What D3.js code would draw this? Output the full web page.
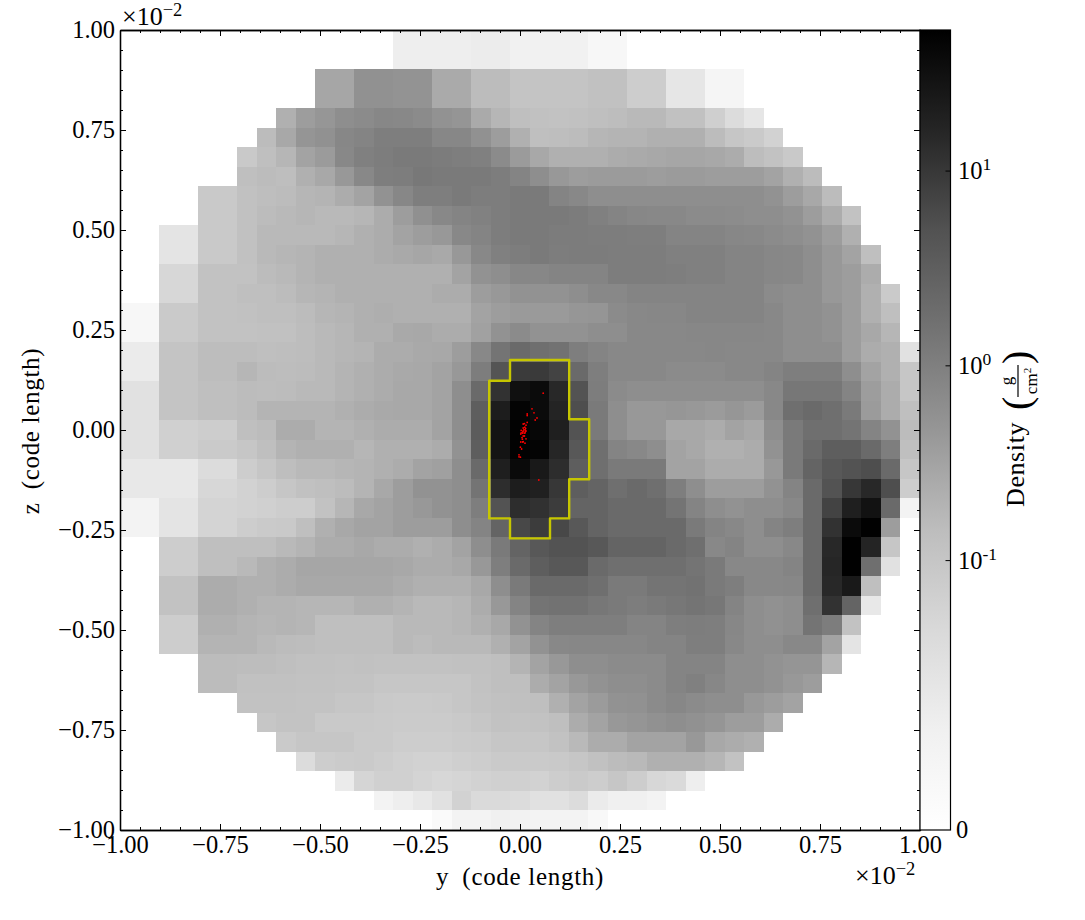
<!DOCTYPE html>
<html>
<head>
<meta charset="utf-8">
<script src="https://cdn.jsdelivr.net/npm/d3@7/dist/d3.min.js"></script>
<style>
body { margin: 0; background: #fff; }
svg text { font-family: "Liberation Serif", serif; fill: #000; }
</style>
</head>
<body>
<div id="diagram_canvas"></div>
<script>
// ----------------------------------------------------------------------
// density in g/cm^2, one row per image row (top to bottom), 41 cells across.
// rowStart is the column of the first filled cell of the row.

const rowStart = [14,14,10,10,8,7,6,6,4,4,2,2,2,2,0,0,0,0,0,0,0,0,0,0,0,0,2,2,2,2,2,2,4,4,6,7,8,9,11,13,16];

const density = [
[.04,.04,.04,.04,.043,.043,.035,.035,.035,.035,.02,.02],
[.04,.04,.04,.04,.043,.043,.035,.035,.035,.035,.02,.02],
[.29,.29,.56,.56,.51,.51,.255,.255,.15,.15,.105,.105,.105,.105,.12,.12,.09,.09,.053,.053,.024,.024],
[.29,.29,.56,.56,.51,.51,.255,.255,.15,.15,.105,.105,.105,.105,.12,.12,.09,.09,.053,.053,.024,.024],
[.21,.375,.47,.62,.68,.79,.74,.68,.53,.49,.255,.175,.13,.12,.115,.12,.13,.145,.16,.16,.12,.12,.087,.07,.053],
[.15,.275,.49,.56,.79,.86,1.04,1.04,1.04,.79,.79,.56,.375,.21,.13,.135,.15,.175,.19,.19,.215,.215,.21,.15,.10,.094,.084],
[.096,.13,.175,.32,.40,.74,.97,1.1,1.22,1.22,1.14,1.04,.97,.68,.40,.275,.21,.21,.21,.24,.255,.275,.29,.29,.275,.24,.145,.115,.096],
[.13,.15,.135,.215,.275,.44,.74,1.04,1.1,1.28,1.22,1.22,1.22,1.1,.86,.62,.44,.375,.40,.40,.40,.375,.40,.40,.375,.375,.375,.32,.21,.15],
[.096,.096,.12,.135,.15,.175,.19,.24,.32,.53,.79,1.04,1.04,1.22,1.1,1.1,1.22,1.22,.86,.74,.62,.62,.62,.62,.62,.62,.62,.62,.62,.53,.375,.275,.15],
[.096,.096,.12,.15,.16,.175,.16,.16,.175,.24,.375,.58,.74,.86,.94,1.1,1.22,1.22,1.22,1.14,.97,.86,.79,.74,.74,.68,.68,.66,.62,.62,.53,.375,.24,.115],
[.057,.057,.096,.096,.12,.16,.16,.16,.16,.175,.21,.24,.32,.375,.44,.74,.86,1.1,1.22,1.22,1.14,1.14,1.1,1.1,1.04,1.04,.86,.86,.86,.79,.74,.68,.62,.53,.375,.215],
[.057,.057,.096,.096,.12,.16,.175,.19,.21,.21,.215,.24,.265,.29,.26,.44,.74,.97,1.1,1.22,1.1,1.14,1.14,1.1,1.1,1.1,.97,.97,.97,.86,.86,.79,.74,.62,.44,.32,.13],
[.077,.077,.115,.115,.115,.15,.16,.19,.21,.21,.21,.21,.21,.21,.215,.32,.53,.62,.79,.79,.86,.86,.86,1.1,1.1,1.1,1.04,.97,.97,.86,.86,.79,.74,.62,.44,.375,.24],
[.077,.077,.115,.115,.13,.13,.15,.175,.19,.21,.21,.215,.215,.215,.24,.24,.375,.44,.53,.53,.53,.62,.74,.74,.86,.86,.86,.86,.86,.86,.86,.68,.62,.62,.44,.375,.21,.094],
[.02,.02,.094,.094,.115,.115,.12,.13,.13,.15,.175,.19,.21,.225,.215,.215,.215,.215,.32,.375,.42,.42,.42,.47,.49,.68,.74,.79,.79,.86,.86,.86,.86,.74,.62,.62,.53,.375,.215,.13],
[.02,.02,.094,.094,.115,.115,.115,.12,.12,.145,.16,.175,.21,.215,.265,.275,.24,.24,.335,.53,.68,.53,.53,.53,.62,.62,.74,.74,.74,.79,.79,.79,.79,.74,.62,.62,.53,.375,.275,.175],
[.045,.045,.105,.105,.145,.145,.145,.13,.135,.145,.16,.175,.19,.24,.24,.265,.275,.375,.74,1.46,2.1,1.75,1.57,1.04,.86,.74,.74,.74,.74,.74,.79,.74,.74,.74,.62,.62,.62,.375,.24,.21,.061],
[.045,.045,.105,.105,.145,.145,.175,.15,.145,.15,.16,.19,.215,.24,.265,.275,.32,.44,1.1,4.6,9.2,9.4,7.4,2.1,1.04,.74,.74,.74,.68,.68,.68,.74,.74,.86,1.04,1.04,1.04,.62,.32,.215,.10],
[.061,.061,.105,.105,.13,.13,.15,.145,.15,.16,.16,.19,.215,.24,.275,.275,.32,.62,2.1,11.5,32,37,15,4.8,1.1,.68,.62,.62,.62,.62,.62,.62,.62,.74,1.35,1.35,1.35,.86,.375,.24,.10],
[.061,.061,.105,.105,.13,.13,.15,.19,.19,.19,.19,.21,.24,.265,.275,.275,.32,.62,3.2,21,46,37,17,5.6,1.22,.62,.44,.44,.47,.44,.40,.47,.40,.74,1.75,2.1,1.75,1.22,.40,.24,.13],
[.061,.061,.086,.086,.09,.09,.13,.15,.24,.24,.19,.19,.21,.24,.24,.24,.32,.62,3.5,28,49,42,20,4.8,1.22,.62,.44,.44,.275,.275,.24,.32,.275,.62,1.22,1.75,1.75,1.46,.86,.53,.15],
[.061,.061,.086,.086,.094,.094,.10,.13,.19,.21,.21,.21,.175,.21,.21,.21,.24,.53,3.2,28,49,46,16,4,1.75,.86,.74,.62,.32,.275,.21,.21,.24,.53,1.22,2.1,3.2,3.2,2.1,1.04,.13],
[.05,.05,.05,.05,.07,.07,.09,.10,.135,.16,.16,.175,.19,.21,.24,.32,.345,.62,2.1,20,39,24,13,3.2,1.75,1.22,1.22,1.22,.32,.32,.24,.24,.24,.44,1.22,2.6,4,4.8,5.6,2.1,.10],
[.05,.05,.05,.05,.077,.077,.084,.09,.10,.12,.13,.15,.19,.275,.375,.53,.53,.62,1.46,13,21,19,10,3.2,2.6,1.75,2.1,1.75,1.04,.62,.375,.375,.375,.53,.86,2.1,4.8,10,15,5.6,.09],
[.03,.03,.057,.057,.081,.081,.084,.086,.09,.09,.115,.175,.275,.32,.375,.44,.53,.62,1.04,4.8,13,12,8.9,2.6,2.6,2.1,2.1,2.1,1.46,.86,.62,.53,.62,.62,.74,2.1,7.4,20,30,2.1,.03],
[.03,.03,.057,.057,.081,.081,.09,.094,.096,.13,.21,.275,.32,.32,.375,.375,.375,.62,.86,2.6,6.5,8.9,6.5,4,2.6,2.1,2.1,2.1,2.1,1.22,.86,.74,.62,.86,1.04,2.1,11.5,37,51,.375],
[.09,.09,.13,.13,.13,.13,.16,.19,.24,.24,.275,.24,.24,.215,.24,.32,.62,1.22,2.6,4,4.8,4.8,4,2.6,2.6,2.6,2.1,1.75,.74,.86,.62,.62,.74,2.1,15,52,17,.10],
[.09,.09,.13,.13,.16,.21,.24,.29,.29,.29,.29,.29,.275,.24,.24,.275,.44,1.04,2.1,3.2,4,4,2.1,1.75,1.75,1.75,1.75,1.46,1.22,.74,.74,.74,.86,2.1,16,52,1.75,.061],
[.115,.115,.24,.24,.21,.21,.24,.275,.275,.275,.275,.275,.24,.215,.21,.21,.275,.62,1.22,2.1,2.1,2.1,1.75,1.22,1.22,1.46,1.46,1.57,1.22,1.04,.74,.74,.79,2.1,15,24,.13],
[.115,.115,.24,.24,.21,.19,.19,.175,.175,.175,.21,.21,.19,.16,.16,.175,.24,.44,.86,1.46,1.57,1.57,1.35,1.22,1.1,1.22,1.35,1.46,1.35,.86,.62,.56,.62,1.75,11.5,2.6,.05],
[.09,.09,.21,.21,.19,.175,.19,.175,.13,.13,.13,.13,.16,.16,.16,.175,.21,.275,.53,.86,1.04,1.04,1.04,1.04,.86,.86,1.04,1.1,1.04,.79,.62,.56,.62,1.46,1.1,.115],
[.09,.09,.19,.19,.19,.16,.15,.145,.13,.13,.13,.13,.16,.15,.16,.16,.16,.21,.32,.53,.74,.79,.79,.79,.79,.86,.86,1.04,1.04,.74,.62,.62,.74,.74,.32,.057],
[.15,.15,.145,.145,.13,.12,.12,.115,.12,.115,.115,.115,.115,.12,.12,.13,.19,.32,.44,.62,.62,.68,.68,.68,.86,.86,.86,.62,.62,.53,.49,.49,.175],
[.15,.15,.12,.12,.12,.115,.115,.11,.11,.10,.10,.10,.10,.10,.115,.13,.13,.24,.32,.44,.53,.62,.62,.68,.86,.97,.79,.62,.62,.53,.44,.375],
[.115,.115,.115,.11,.11,.10,.10,.096,.094,.094,.096,.10,.11,.12,.125,.13,.21,.32,.40,.53,.56,.68,.79,.68,.62,.62,.44,.375,.32],
[.10,.11,.11,.096,.096,.096,.094,.093,.093,.093,.096,.10,.115,.11,.115,.13,.24,.32,.44,.49,.56,.62,.56,.49,.375,.375,.24],
[.094,.10,.10,.10,.094,.094,.09,.09,.09,.093,.094,.10,.10,.10,.115,.16,.24,.24,.32,.32,.32,.44,.275,.24,.21],
[.07,.09,.093,.094,.09,.086,.084,.084,.087,.09,.094,.094,.094,.096,.10,.12,.15,.16,.21,.215,.215,.175,.115],
[.045,.08,.086,.086,.081,.077,.08,.084,.086,.086,.084,.09,.094,.09,.10,.09,.077,.073,.04],
[.029,.04,.05,.061,.084,.073,.073,.07,.061,.061,.07,.045,.037,.037,.03],
[.012,.029,.029,.037,.033,.029,.029,.029,.018]
];

// particle positions, in the axis units (x 10^-2)
const particleY = [.058,.03,.035,.018,.018,.0425,.038,.018,.011,.008,.015,.008,.014,.013,.003,.008,.015,.003,.007,.012,.002,.008,.011,.015,.006,.002,.007,.008,.0125,.001,.004,-.0025,-.0025,.001,.047,.01,.012,.007,.013,.005];
const particleZ = [.092,.053,.043,.04,.036,.03,.025,.019,.016,.015,.012,.005,.004,0,-.001,-.0025,-.0025,-.007,-.008,-.008,-.01,-.015,-.015,-.022,-.023,-.03,-.03,-.029,-.033,-.043,-.0475,-.062,-.067,-.068,-.125,.001,.007,-.005,-.005,-.019];

// contour outline
const contourY = [-.025,.123,.123,.173,.173,.123,.123,.075,.075,-.025,-.025,-.077,-.077,-.025,-.025];
const contourZ = [.175,.175,.027,.027,-.123,-.123,-.221,-.221,-.271,-.271,-.221,-.221,.123,.123,.175];

// ticks
const majorTicks = [-1,-.75,-.5,-.25,0,.25,.5,.75,1];
const minorTicks = d3.range(-20, 21).filter(i => i % 5 != 0).map(i => i / 20);
const barTicks = [0, .1, 1, 10];
const barMax = 53;
const greys = ["#ffffff","#f0f0f0","#d9d9d9","#bdbdbd","#969696","#737373","#525252","#252525","#000000"];

// ----------------------------------------------------------------------

const width = 1085, height = 920;
const left = 120, right = 920, top_ = 30, bottom = 830;
const nCells = 41;
const fontSize = 24.5;

const svg = d3.select("#diagram_canvas").append("svg:svg")
    .attr("width", width)
    .attr("height", height)
    .style("display", "block");

const x = d3.scaleLinear().domain([-1, 1]).range([left, right]);
const y = d3.scaleLinear().domain([-1, 1]).range([bottom, top_]);
const edge = d3.scaleLinear().domain([0, nCells]).range([-1, 1]);

// symlog colour axis: linear under 0.1, log above
const barLin = d3.scaleLinear().domain([0, .1]).range([bottom, 560.6]);
const barLog = d3.scaleLog().domain([.1, barMax]).range([560.6, top_]);
const barY = d => d <= .1 ? barLin(d) : barLog(d);
const grey = d3.scaleLinear().domain(greys.map((c, i) => i / 8)).range(greys);
const color = d => grey((bottom - barY(d)) / (bottom - top_));

// ----------------------------------------------------------------------
// cells

const cells = [];
density.forEach((row, r) => row.forEach((d, i) => cells.push({r: r, c: rowStart[r] + i, d: d})));

svg.append("g").attr("shape-rendering", "crispEdges").selectAll("rect")
    .data(cells)
    .enter()
    .append("svg:rect")
    .attr("x", d => x(edge(d.c)))
    .attr("y", d => y(-edge(d.r)))
    .attr("width", d => x(edge(d.c + 1)) - x(edge(d.c)))
    .attr("height", d => y(-edge(d.r + 1)) - y(-edge(d.r)))
    .attr("fill", d => color(d.d));

// contour and particles

const contour = d3.line().x(i => x(contourY[i])).y(i => y(contourZ[i]));
svg.append("path")
    .attr("d", contour(d3.range(contourY.length)) + "Z")
    .attr("fill", "none")
    .attr("stroke", "#c6c600")
    .attr("stroke-width", 2.4)
    .attr("stroke-linejoin", "round");

svg.append("g").selectAll("circle")
    .data(particleY)
    .enter()
    .append("svg:circle")
    .attr("cx", d => x(d))
    .attr("cy", (d, i) => y(particleZ[i]))
    .attr("r", .9)
    .attr("fill", "#ff0000");

// ----------------------------------------------------------------------
// axes

function drawAxis(axis, tx, ty, withLabels) {
    const g = svg.append("g").attr("transform", "translate(" + tx + "," + ty + ")").call(axis);
    g.selectAll("line").attr("stroke", "#000").attr("stroke-width", 1);
    g.select(".domain").attr("stroke", "#000").attr("stroke-width", 1.3);
    g.selectAll("text").style("font-size", fontSize + "px").style("font-family", '"Liberation Serif", serif');
    if (!withLabels) g.selectAll("text").remove();
    return g;
}

const fmt = d3.format(".2f");
[[majorTicks, 6], [minorTicks, 3]].forEach(([vals, len], k) => {
    drawAxis(d3.axisBottom(x).tickValues(vals).tickSizeInner(-len).tickSizeOuter(0).tickPadding(5.6).tickFormat(fmt), 0, bottom, k == 0);
    drawAxis(d3.axisTop(x).tickValues(vals).tickSizeInner(-len).tickSizeOuter(0), 0, top_, false);
    drawAxis(d3.axisLeft(y).tickValues(vals).tickSizeInner(-len).tickSizeOuter(0).tickPadding(5).tickFormat(fmt), left, 0, k == 0);
    drawAxis(d3.axisRight(y).tickValues(vals).tickSizeInner(-len).tickSizeOuter(0), right, 0, false);
});

// offset text, top left and bottom right
function offsetText(tx, ty) {
    const t = svg.append("text").attr("x", tx).attr("y", ty).style("font-size", "26px");
    t.append("tspan").text("\u00d710");
    t.append("tspan").attr("dy", -9).style("font-size", "18.5px").text("\u22122");
}
offsetText(122, 25);
offsetText(855, 884);

svg.append("text")
    .attr("x", 520).attr("y", 885)
    .attr("text-anchor", "middle")
    .style("font-size", "25px")
    .style("letter-spacing", ".7px")
    .text("y\u2002(code length)");

svg.append("text")
    .attr("transform", "translate(39,431) rotate(-90)")
    .attr("text-anchor", "middle")
    .style("font-size", "25px")
    .style("letter-spacing", ".7px")
    .text("z\u2002(code length)");

// ----------------------------------------------------------------------
// colour bar

const grad = svg.append("defs").append("linearGradient")
    .attr("id", "bar").attr("x1", 0).attr("x2", 0).attr("y1", 1).attr("y2", 0);
grad.selectAll("stop").data(greys).enter().append("stop")
    .attr("offset", (c, i) => i / 8)
    .attr("stop-color", c => c);

svg.append("rect")
    .attr("x", right).attr("y", top_)
    .attr("width", 30.5).attr("height", bottom - top_)
    .attr("fill", "url(#bar)")
    .attr("stroke", "#000").attr("stroke-width", 1.2);

svg.append("g").selectAll("line")
    .data(barTicks.slice(1))
    .enter()
    .append("line")
    .attr("x1", right + 25.5).attr("x2", right + 30.5)
    .attr("y1", d => barY(d)).attr("y2", d => barY(d))
    .attr("stroke", "#000").attr("stroke-width", 1);

barTicks.forEach(d => {
    const t = svg.append("text")
        .attr("x", d == 0 ? 956 : 958)
        .attr("y", barY(d) + 8)
        .style("font-size", fontSize + "px");
    if (d == 0) { t.text("0"); return; }
    t.append("tspan").text("10");
    t.append("tspan").attr("dy", -9).style("font-size", "17.5px").text(d == .1 ? "-1" : d == 1 ? "0" : "1");
});

// colour bar label, written along the rotated axis
const label = svg.append("g").attr("transform", "translate(1024,507) rotate(-90)");
label.append("text").attr("x", 0).attr("y", 0).style("font-size", "26px").style("letter-spacing", ".6px").text("Density");
label.append("text").attr("x", 97).attr("y", 5.5).style("font-size", "40px").style("font-weight", "200").text("(");
label.append("text").attr("x", 143).attr("y", 5.5).style("font-size", "40px").style("font-weight", "200").text(")");
label.append("line").attr("x1", 110).attr("x2", 142).attr("y1", -6).attr("y2", -6).attr("stroke", "#000").attr("stroke-width", 1.2);
label.append("text").attr("x", 126).attr("y", -12).attr("text-anchor", "middle").style("font-size", "17px").text("g");
const cm = label.append("text").attr("x", 126).attr("y", 13).attr("text-anchor", "middle").style("font-size", "17px");
cm.append("tspan").text("cm");
cm.append("tspan").attr("dy", -6).style("font-size", "11px").text("2");
</script>
</body>
</html>
